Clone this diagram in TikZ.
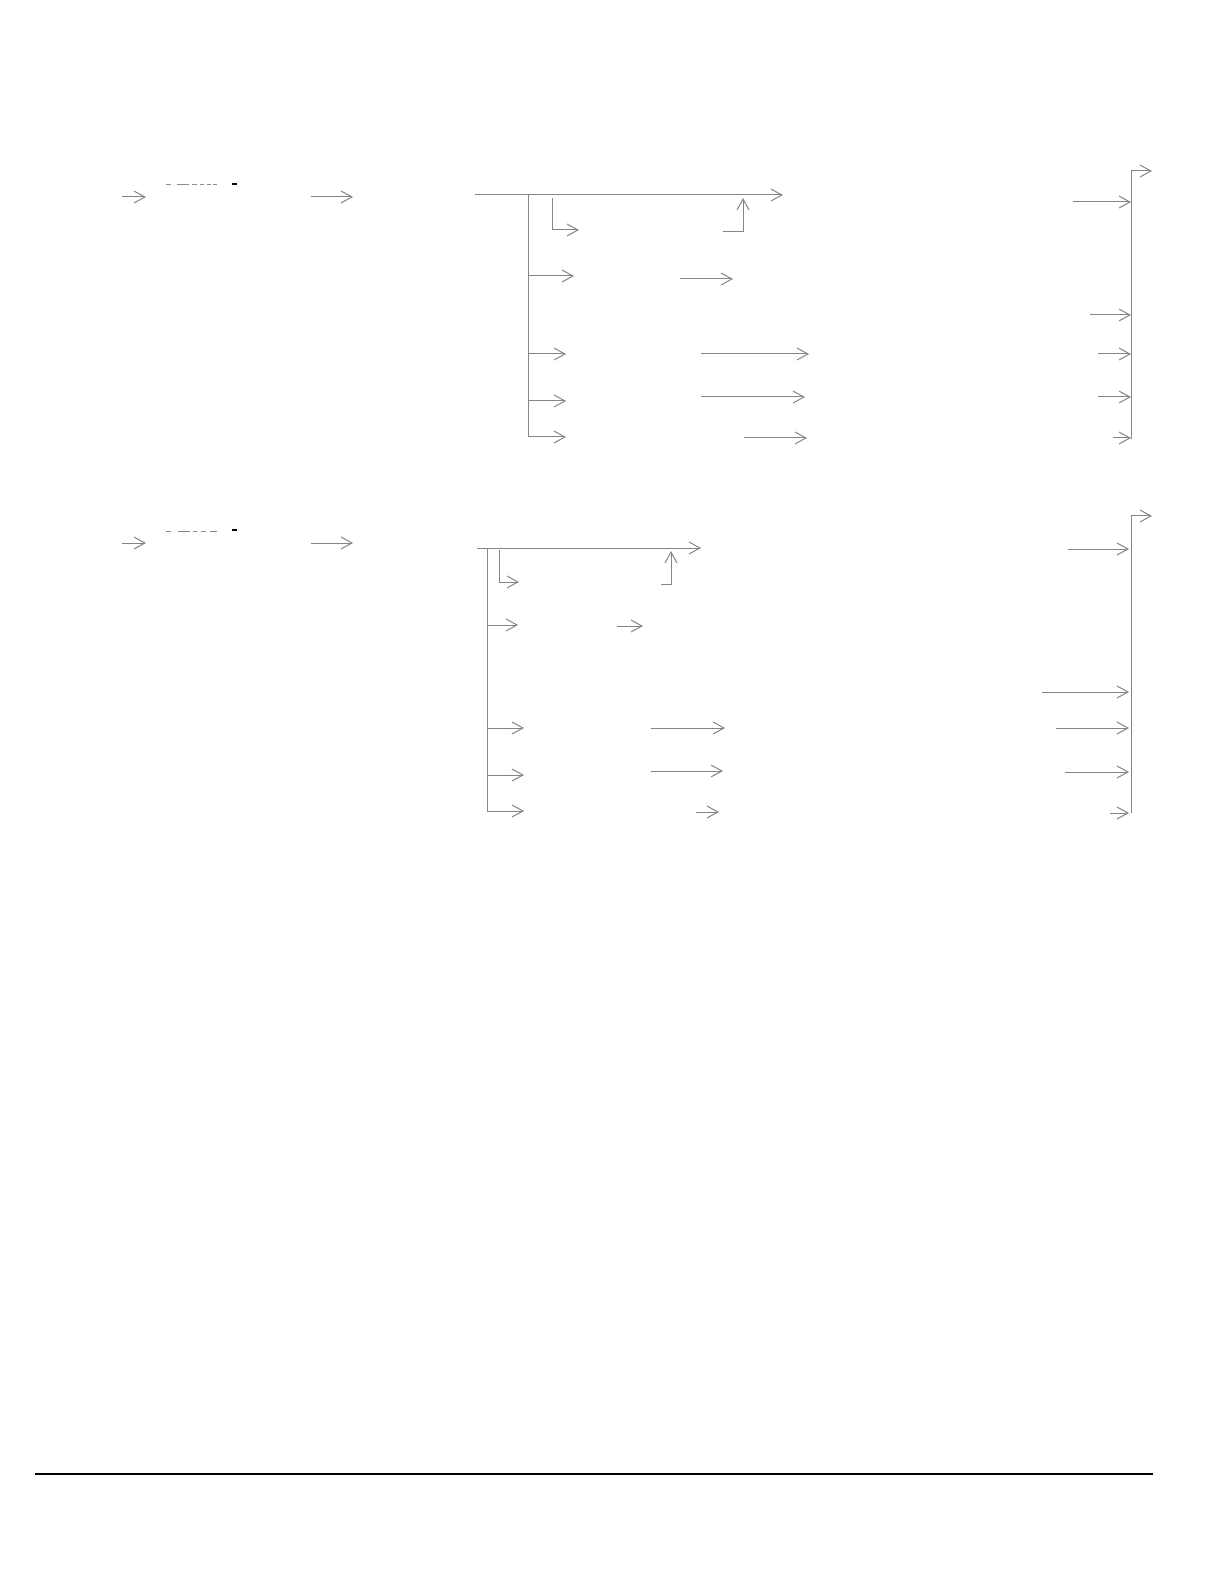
\documentclass[tikz,border=0pt]{standalone}
\usetikzlibrary{arrows.meta}
\definecolor{linegray}{HTML}{858585}
\definecolor{dashgray}{HTML}{8C8C8C}
\tikzset{
  conn/.style={draw=linegray, line width=0.5pt},
  arr/.style={conn, -{Straight Barb[length=5.5pt,width=6pt]}},
  dashseg/.style={draw=dashgray, line width=0.5pt},
  blackdot/.style={draw=black, line width=1pt},
  footrule/.style={draw=black, line width=1.1pt}
}
\begin{document}
\begin{tikzpicture}[x=0.5pt,y=-0.5pt]
\useasboundingbox (0,0) rectangle (1224,1582);

% ================= Section 1 =================
\coordinate (a1s) at (122,197); \coordinate (a1e) at (146,197);
\draw[arr] (a1s) -- (a1e);
\foreach \xa/\xb in {166/171,177/189,192/197,200/204,207/211,213/217}
  \draw[dashseg] (\xa,185) -- (\xb,185);
\draw[blackdot] (232,184) -- (237,184);
\coordinate (a2s) at (311,197); \coordinate (a2e) at (353,197);
\draw[arr] (a2s) -- (a2e);

\coordinate (t1s) at (475,195); \coordinate (t1e) at (783,195);
\draw[arr] (t1s) -- (t1e);
\coordinate (tr1top) at (528,195); \coordinate (tr1bot) at (528,437);
\draw[conn] (tr1top) -- (tr1bot);
% branch 1
\coordinate (b1a) at (552,198); \coordinate (b1b) at (552,230); \coordinate (b1c) at (579,230);
\draw[arr] (b1a) -- (b1b) -- (b1c);
\coordinate (u1a) at (723,232); \coordinate (u1b) at (743,232); \coordinate (u1c) at (743,198);
\draw[arr] (u1a) -- (u1b) -- (u1c);
% rows
\draw[arr] (528,276) -- (574,276);
\draw[arr] (680,279) -- (733,279);
\draw[arr] (528,354) -- (566,354);
\draw[arr] (701,354) -- (809,354);
\draw[arr] (528,401) -- (566,401);
\draw[arr] (701,397) -- (805,397);
\draw[arr] (528,437) -- (566,437);
\draw[arr] (744,438) -- (807,438);
% right bus
\coordinate (r1top) at (1131,171); \coordinate (r1bot) at (1131,439);
\draw[conn] (r1bot) -- (r1top);
\draw[arr] (r1top) -- (1152,171);
\draw[arr] (1073,202) -- (1131,202);
\draw[arr] (1090,315) -- (1131,315);
\draw[arr] (1098,354) -- (1131,354);
\draw[arr] (1098,397) -- (1131,397);
\draw[arr] (1113,438) -- (1131,438);

% ================= Section 2 =================
\coordinate (c1s) at (122,543); \coordinate (c1e) at (146,543);
\draw[arr] (c1s) -- (c1e);
\foreach \xa/\xb in {166/171,178/190,193/197,201/206,210/217}
  \draw[dashseg] (\xa,531) -- (\xb,531);
\draw[blackdot] (232,530) -- (237,530);
\coordinate (c2s) at (311,543); \coordinate (c2e) at (353,543);
\draw[arr] (c2s) -- (c2e);

\coordinate (t2s) at (477,548); \coordinate (t2e) at (701,548);
\draw[arr] (t2s) -- (t2e);
\coordinate (tr2top) at (487,548); \coordinate (tr2bot) at (487,811);
\draw[conn] (tr2top) -- (tr2bot);
\coordinate (b2a) at (499,550); \coordinate (b2b) at (499,582); \coordinate (b2c) at (519,582);
\draw[arr] (b2a) -- (b2b) -- (b2c);
\coordinate (u2a) at (661,584); \coordinate (u2b) at (671,584); \coordinate (u2c) at (671,551);
\draw[arr] (u2a) -- (u2b) -- (u2c);
\draw[arr] (487,625) -- (518,625);
\draw[arr] (617,626) -- (643,626);
\draw[arr] (487,728) -- (524,728);
\draw[arr] (651,728) -- (725,728);
\draw[arr] (487,775) -- (524,775);
\draw[arr] (651,771) -- (723,771);
\draw[arr] (487,811) -- (524,811);
\draw[arr] (696,812) -- (719,812);
% right bus
\coordinate (r2top) at (1131,516); \coordinate (r2bot) at (1131,813);
\draw[conn] (r2bot) -- (r2top);
\draw[arr] (r2top) -- (1152,516);
\draw[arr] (1068,549) -- (1129,549);
\draw[arr] (1042,692) -- (1129,692);
\draw[arr] (1056,728) -- (1129,728);
\draw[arr] (1065,772) -- (1129,772);
\draw[arr] (1110,813) -- (1129,813);

% ================= Footer rule =================
\coordinate (fl) at (35,1474); \coordinate (fr) at (1153,1474);
\draw[footrule] (fl) -- (fr);
\end{tikzpicture}
\end{document}
